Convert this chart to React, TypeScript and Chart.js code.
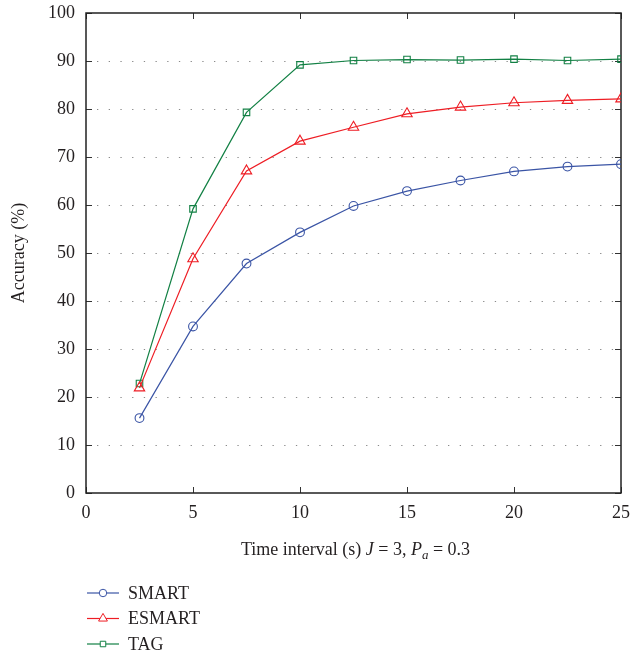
import React, { useEffect, useRef } from 'react';
import { Chart, registerables } from 'chart.js';

Chart.register(...registerables);

// ---- data ----
const timeIntervals = [2.5, 5, 7.5, 10, 12.5, 15, 17.5, 20, 22.5, 25];
const smartValues = [15.6, 34.7, 47.8, 54.3, 59.8, 62.9, 65.1, 67.0, 68.0, 68.5];
const esmartValues = [21.9, 48.8, 67.1, 73.3, 76.2, 79.0, 80.4, 81.3, 81.8, 82.1];
const tagValues = [22.8, 59.2, 79.3, 89.2, 90.1, 90.3, 90.2, 90.4, 90.1, 90.4];
const seriesNames = ['SMART', 'ESMART', 'TAG'];
const xTickValues = [0, 5, 10, 15, 20, 25];
const yTickValues = [0, 10, 20, 30, 40, 50, 60, 70, 80, 90, 100];
const yAxisTitle = 'Accuracy (%)';

const FONT = '"Liberation Serif", "DejaVu Serif", serif';
const COLORS = ['#3a54a5', '#ee1d24', '#128044'];
const STYLES = ['circle', 'triangle', 'rect'];
const RADII = [4.4, 6.0, 4.6];

function drawMarker(ctx: CanvasRenderingContext2D, style: string, x: number, y: number, r: number, color: string) {
  ctx.save();
  ctx.strokeStyle = color;
  ctx.fillStyle = '#ffffff';
  ctx.lineWidth = 1;
  ctx.beginPath();
  if (style === 'circle') {
    ctx.arc(x, y, r, 0, Math.PI * 2);
  } else if (style === 'triangle') {
    for (let i = 0; i < 3; i++) {
      const a = (i * 2 * Math.PI) / 3;
      const px = x + Math.sin(a) * r;
      const py = y - Math.cos(a) * r;
      if (i === 0) ctx.moveTo(px, py);
      else ctx.lineTo(px, py);
    }
    ctx.closePath();
  } else {
    const h = r * Math.SQRT1_2;
    ctx.rect(x - h, y - h, 2 * h, 2 * h);
  }
  ctx.fill();
  ctx.stroke();
  ctx.restore();
}

const framePlugin = {
  id: 'framePlugin',
  beforeDatasetsDraw(chart: any) {
    const { ctx, chartArea } = chart;
    const { left, right, top, bottom } = chartArea;
    const xs = chart.scales.x;
    const ys = chart.scales.y;
    ctx.save();
    // dotted grid
    ctx.strokeStyle = '#8a8a8a';
    ctx.lineWidth = 1.2;
    ctx.setLineDash([1.3, 10.4]);
    yTickValues.forEach((v) => {
      if (v === yTickValues[0] || v === yTickValues[yTickValues.length - 1]) return;
      const y = Math.round(ys.getPixelForValue(v)) + 0.5;
      ctx.beginPath();
      ctx.moveTo(left + 11, y);
      ctx.lineTo(right - 6, y);
      ctx.stroke();
    });
    ctx.setLineDash([]);
    // inner ticks
    ctx.strokeStyle = '#333';
    ctx.lineWidth = 1;
    const tl = 6;
    yTickValues.forEach((v) => {
      const y = Math.round(ys.getPixelForValue(v)) + 0.5;
      ctx.beginPath();
      ctx.moveTo(left, y);
      ctx.lineTo(left + tl, y);
      ctx.moveTo(right, y);
      ctx.lineTo(right - tl, y);
      ctx.stroke();
    });
    xTickValues.forEach((v) => {
      const x = Math.round(xs.getPixelForValue(v)) + 0.5;
      ctx.beginPath();
      ctx.moveTo(x, bottom);
      ctx.lineTo(x, bottom - tl);
      ctx.moveTo(x, top);
      ctx.lineTo(x, top + tl);
      ctx.stroke();
    });
    // frame
    ctx.strokeStyle = '#222';
    ctx.lineWidth = 1.5;
    ctx.strokeRect(left, top, right - left, bottom - top);
    ctx.restore();
  },
  afterDraw(chart: any) {
    const { ctx, chartArea } = chart;
    const { left, right, top, bottom } = chartArea;
    ctx.save();
    ctx.fillStyle = '#231f20';
    // y axis title
    ctx.save();
    ctx.translate(19, (top + bottom) / 2);
    ctx.rotate(-Math.PI / 2);
    ctx.font = `18px ${FONT}`;
    ctx.textAlign = 'center';
    ctx.textBaseline = 'middle';
    ctx.fillText(yAxisTitle, 0, 0);
    ctx.restore();

    // x axis title with italic parts
    const parts = [
      { t: 'Time interval (s) ', it: false, sub: false },
      { t: 'J', it: true, sub: false },
      { t: ' = 3, ', it: false, sub: false },
      { t: 'P', it: true, sub: false },
      { t: 'a', it: true, sub: true },
      { t: ' = 0.3', it: false, sub: false },
    ];
    const fontFor = (p: any) => `${p.it ? 'italic ' : ''}${p.sub ? 13 : 18}px ${FONT}`;
    let total = 0;
    parts.forEach((p) => {
      ctx.font = fontFor(p);
      total += ctx.measureText(p.t).width;
    });
    let x = (left + right) / 2 + 2 - total / 2;
    const baseY = 555;
    ctx.textAlign = 'left';
    ctx.textBaseline = 'alphabetic';
    parts.forEach((p) => {
      ctx.font = fontFor(p);
      ctx.fillText(p.t, x, p.sub ? baseY + 4 : baseY);
      x += ctx.measureText(p.t).width;
    });

    // legend
    const legendY0 = 593;
    const step = 25.5;
    chart.data.datasets.forEach((ds: any, i: number) => {
      const y = legendY0 + i * step;
      ctx.strokeStyle = ds.borderColor;
      ctx.lineWidth = 1.2;
      ctx.beginPath();
      ctx.moveTo(87, y);
      ctx.lineTo(119, y);
      ctx.stroke();
      drawMarker(ctx, STYLES[i], 103, y, RADII[i] * 0.85, ds.borderColor);
      ctx.fillStyle = '#231f20';
      ctx.font = `18px ${FONT}`;
      ctx.textAlign = 'left';
      ctx.textBaseline = 'middle';
      ctx.fillText(ds.label, 128, y + 1);
    });
    ctx.restore();
  },
};

export default function App() {
  const canvasRef = useRef<HTMLCanvasElement | null>(null);

  useEffect(() => {
    const canvas = canvasRef.current;
    if (!canvas) return;
    const seriesValues = [smartValues, esmartValues, tagValues];
    const chart = new Chart(canvas, {
      type: 'line',
      data: {
        datasets: seriesNames.map((name, i) => ({
          label: name,
          data: timeIntervals.map((t, j) => ({ x: t, y: seriesValues[i][j] })),
          borderColor: COLORS[i],
          backgroundColor: '#ffffff',
          borderWidth: 1.2,
          pointStyle: STYLES[i] as any,
          pointRadius: RADII[i],
          pointBorderWidth: 1.1,
          pointBackgroundColor: 'rgba(255,255,255,0)',
          tension: 0,
          fill: false,
        })),
      },
      options: {
        animation: false,
        responsive: false,
        events: [],
        layout: { padding: { top: 13, right: 13, left: 0, bottom: 0 } },
        plugins: {
          legend: { display: false },
          tooltip: { enabled: false },
          title: { display: false },
        },
        scales: {
          x: {
            type: 'linear',
            min: 0,
            max: 25,
            afterBuildTicks: (scale: any) => {
              scale.ticks = xTickValues.map((v) => ({ value: v }));
            },
            grid: { display: false, drawTicks: false },
            border: { display: false },
            ticks: {
              padding: 9,
              color: '#231f20',
              font: { family: FONT, size: 18 },
              maxRotation: 0,
              autoSkip: false,
            },
            afterFit: (scale: any) => {
              scale.height = 164;
              scale.paddingLeft = 0;
              scale.paddingRight = 0;
              scale.paddingTop = 0;
              scale.paddingBottom = 0;
            },
          },
          y: {
            type: 'linear',
            min: 0,
            max: 100,
            afterBuildTicks: (scale: any) => {
              scale.ticks = yTickValues.map((v) => ({ value: v }));
            },
            grid: { display: false, drawTicks: false },
            border: { display: false },
            ticks: {
              padding: 11,
              color: '#231f20',
              font: { family: FONT, size: 18 },
              autoSkip: false,
            },
            afterFit: (scale: any) => {
              scale.width = 86;
              scale.paddingLeft = 0;
              scale.paddingRight = 0;
              scale.paddingTop = 0;
              scale.paddingBottom = 0;
            },
          },
        },
      },
      plugins: [framePlugin],
    });
    return () => chart.destroy();
  }, []);

  return (
    <div style={{ position: 'absolute', left: 0, top: 0, width: 634, height: 657, background: '#fff' }}>
      <canvas ref={canvasRef} width={634} height={657} style={{ display: 'block', width: 634, height: 657 }} />
    </div>
  );
}
